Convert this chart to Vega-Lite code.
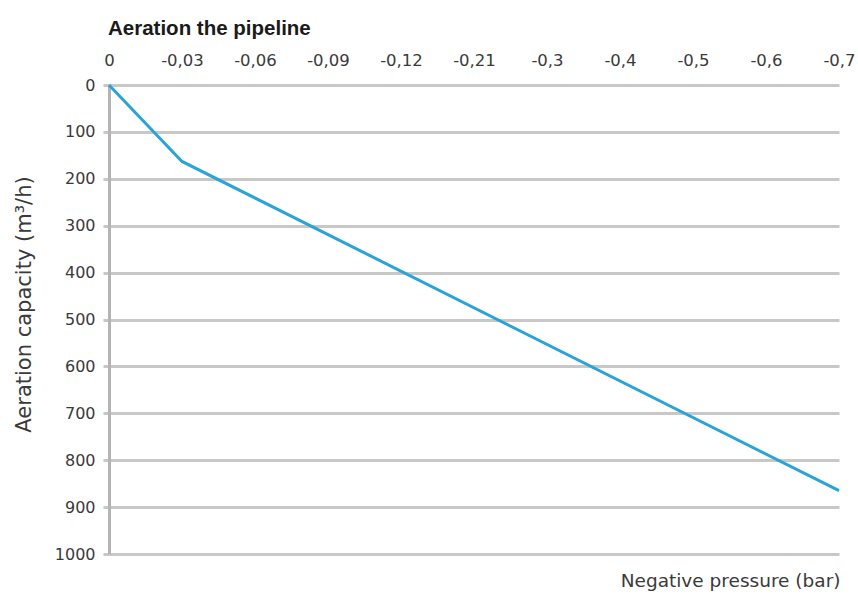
{
  "$schema": "https://vega.github.io/schema/vega-lite/v6.json",
  "autosize": "none",
  "width": 730,
  "height": 469,
  "padding": {"left": 109, "top": 85, "right": 19, "bottom": 40},
  "background": "white",
  "config": {
    "font": "DejaVu Sans",
    "view": {"stroke": null}
  },
  "title": {
    "text": "Aeration the pipeline",
    "anchor": "start",
    "frame": "group",
    "fontSize": 20.5,
    "fontWeight": "bold",
    "color": "#1a1a1a",
    "font": "Liberation Sans",
    "dx": -1,
    "offset": 13
  },
  "data": {
    "values": [
      {"step": 0, "capacity": 0},
      {"step": 1, "capacity": 163},
      {"step": 10, "capacity": 865}
    ]
  },
  "mark": {"type": "line", "color": "#2aa3d9", "strokeWidth": 3},
  "encoding": {
    "x": {
      "field": "step",
      "type": "quantitative",
      "scale": {"domain": [0, 10], "nice": false, "zero": false},
      "axis": {
        "orient": "top",
        "values": [0, 1, 2, 3, 4, 5, 6, 7, 8, 9, 10],
        "labelExpr": "['0','-0,03','-0,06','-0,09','-0,12','-0,21','-0,3','-0,4','-0,5','-0,6','-0,7'][datum.value]",
        "grid": false,
        "ticks": false,
        "domain": false,
        "labelFontSize": 16.5,
        "labelColor": "#3a3a3a",
        "labelPadding": 17,
        "labelDx": 5,
        "labelOverlap": false,
        "labelFlush": false,
        "title": "Negative pressure (bar)",
        "titleFontSize": 18.5,
        "titleFontWeight": "normal",
        "titleColor": "#3a3a3a",
        "titleAnchor": "end",
        "titleAlign": "right",
        "titleBaseline": "middle",
        "titleX": 731,
        "titleY": 495
      }
    },
    "y": {
      "field": "capacity",
      "type": "quantitative",
      "scale": {"domain": [0, 1000], "reverse": true, "nice": false},
      "axis": {
        "values": [0, 100, 200, 300, 400, 500, 600, 700, 800, 900, 1000],
        "format": "d",
        "grid": true,
        "gridColor": "#c8c8c8",
        "gridWidth": 3,
        "ticks": true,
        "tickSize": 6,
        "tickWidth": 3,
        "tickColor": "#c8c8c8",
        "domain": true,
        "domainColor": "#b4b4b4",
        "domainWidth": 3,
        "labelFontSize": 16,
        "labelColor": "#3a3a3a",
        "labelPadding": 8,
        "title": "Aeration capacity (m³/h)",
        "titleFontSize": 21,
        "titleFontWeight": "normal",
        "titleColor": "#3a3a3a",
        "titlePadding": 20,
        "titleY": 219
      }
    }
  }
}
